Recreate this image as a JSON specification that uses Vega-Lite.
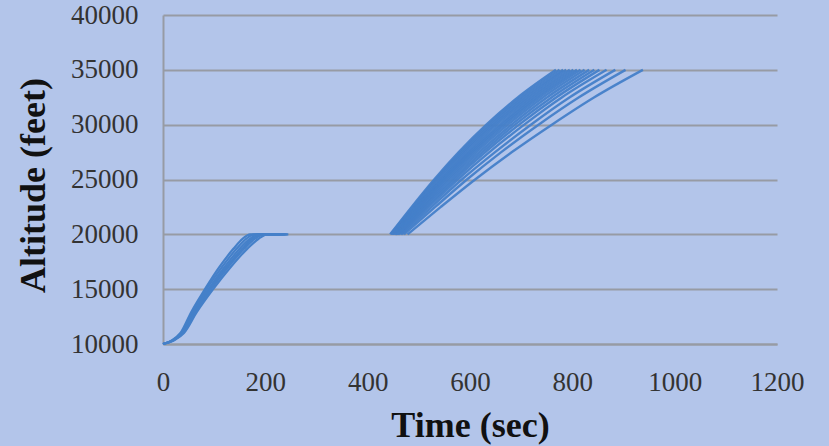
{
  "$schema": "https://vega.github.io/schema/vega-lite/v6.json",
  "width": 614,
  "height": 329,
  "autosize": {"type": "none"},
  "padding": {"left": 163, "top": 15, "right": 52, "bottom": 102},
  "background": "#b3c5ea",
  "config": {"view": {"stroke": null}},
  "datasets": {
    "climb1": [
      {"id":"A1","t":0,"a":10000},{"id":"A1","t":18,"a":10350},{"id":"A1","t":34,"a":11000},{"id":"A1","t":55,"a":12900},{"id":"A1","t":82,"a":15000},{"id":"A1","t":110,"a":17000},{"id":"A1","t":138,"a":18700},{"id":"A1","t":156,"a":19600},{"id":"A1","t":170,"a":20000},{"id":"A1","t":230,"a":20000},
      {"id":"A2","t":0,"a":10000},{"id":"A2","t":19,"a":10350},{"id":"A2","t":36,"a":11000},{"id":"A2","t":58,"a":12900},{"id":"A2","t":85,"a":15000},{"id":"A2","t":115,"a":17000},{"id":"A2","t":144,"a":18700},{"id":"A2","t":163,"a":19600},{"id":"A2","t":178,"a":20000},{"id":"A2","t":235,"a":20000},
      {"id":"A3","t":0,"a":10000},{"id":"A3","t":20,"a":10350},{"id":"A3","t":37,"a":11000},{"id":"A3","t":60,"a":12900},{"id":"A3","t":89,"a":15000},{"id":"A3","t":120,"a":17000},{"id":"A3","t":150,"a":18700},{"id":"A3","t":170,"a":19600},{"id":"A3","t":185,"a":20000},{"id":"A3","t":240,"a":20000},
      {"id":"A4","t":0,"a":10000},{"id":"A4","t":21,"a":10350},{"id":"A4","t":38,"a":11000},{"id":"A4","t":62,"a":12900},{"id":"A4","t":92,"a":15000},{"id":"A4","t":124,"a":17000},{"id":"A4","t":155,"a":18700},{"id":"A4","t":175,"a":19600},{"id":"A4","t":191,"a":20000},{"id":"A4","t":243,"a":20000},
      {"id":"A5","t":0,"a":10000},{"id":"A5","t":21,"a":10350},{"id":"A5","t":39,"a":11000},{"id":"A5","t":64,"a":12900},{"id":"A5","t":94,"a":15000},{"id":"A5","t":127,"a":17000},{"id":"A5","t":159,"a":18700},{"id":"A5","t":180,"a":19600},{"id":"A5","t":196,"a":20000},{"id":"A5","t":238,"a":20000},
      {"id":"A6","t":0,"a":10000},{"id":"A6","t":22,"a":10350},{"id":"A6","t":41,"a":11000},{"id":"A6","t":66,"a":12900},{"id":"A6","t":98,"a":15000},{"id":"A6","t":132,"a":17000},{"id":"A6","t":165,"a":18700},{"id":"A6","t":187,"a":19600},{"id":"A6","t":204,"a":20000},{"id":"A6","t":245,"a":20000}
    ],
    "climb2": [
      {"id":"B1","t":444,"a":20000},{"id":"B1","t":486,"a":22500},{"id":"B1","t":530,"a":25000},{"id":"B1","t":578,"a":27500},{"id":"B1","t":632,"a":30000},{"id":"B1","t":694,"a":32500},{"id":"B1","t":768,"a":35000},
      {"id":"B2","t":445,"a":20000},{"id":"B2","t":488,"a":22500},{"id":"B2","t":533,"a":25000},{"id":"B2","t":582,"a":27500},{"id":"B2","t":637,"a":30000},{"id":"B2","t":700,"a":32500},{"id":"B2","t":775,"a":35000},
      {"id":"B3","t":447,"a":20000},{"id":"B3","t":491,"a":22500},{"id":"B3","t":536,"a":25000},{"id":"B3","t":586,"a":27500},{"id":"B3","t":642,"a":30000},{"id":"B3","t":706,"a":32500},{"id":"B3","t":782,"a":35000},
      {"id":"B4","t":448,"a":20000},{"id":"B4","t":493,"a":22500},{"id":"B4","t":540,"a":25000},{"id":"B4","t":590,"a":27500},{"id":"B4","t":647,"a":30000},{"id":"B4","t":712,"a":32500},{"id":"B4","t":788,"a":35000},
      {"id":"B5","t":449,"a":20000},{"id":"B5","t":495,"a":22500},{"id":"B5","t":543,"a":25000},{"id":"B5","t":595,"a":27500},{"id":"B5","t":652,"a":30000},{"id":"B5","t":718,"a":32500},{"id":"B5","t":795,"a":35000},
      {"id":"B6","t":451,"a":20000},{"id":"B6","t":497,"a":22500},{"id":"B6","t":546,"a":25000},{"id":"B6","t":599,"a":27500},{"id":"B6","t":658,"a":30000},{"id":"B6","t":724,"a":32500},{"id":"B6","t":802,"a":35000},
      {"id":"B7","t":452,"a":20000},{"id":"B7","t":500,"a":22500},{"id":"B7","t":549,"a":25000},{"id":"B7","t":603,"a":27500},{"id":"B7","t":663,"a":30000},{"id":"B7","t":730,"a":32500},{"id":"B7","t":809,"a":35000},
      {"id":"B8","t":454,"a":20000},{"id":"B8","t":502,"a":22500},{"id":"B8","t":552,"a":25000},{"id":"B8","t":607,"a":27500},{"id":"B8","t":668,"a":30000},{"id":"B8","t":736,"a":32500},{"id":"B8","t":816,"a":35000},
      {"id":"B9","t":455,"a":20000},{"id":"B9","t":505,"a":22500},{"id":"B9","t":556,"a":25000},{"id":"B9","t":612,"a":27500},{"id":"B9","t":674,"a":30000},{"id":"B9","t":743,"a":32500},{"id":"B9","t":824,"a":35000},
      {"id":"B10","t":457,"a":20000},{"id":"B10","t":508,"a":22500},{"id":"B10","t":560,"a":25000},{"id":"B10","t":618,"a":27500},{"id":"B10","t":681,"a":30000},{"id":"B10","t":751,"a":32500},{"id":"B10","t":833,"a":35000},
      {"id":"B11","t":459,"a":20000},{"id":"B11","t":511,"a":22500},{"id":"B11","t":565,"a":25000},{"id":"B11","t":624,"a":27500},{"id":"B11","t":688,"a":30000},{"id":"B11","t":760,"a":32500},{"id":"B11","t":843,"a":35000},
      {"id":"B12","t":461,"a":20000},{"id":"B12","t":515,"a":22500},{"id":"B12","t":570,"a":25000},{"id":"B12","t":630,"a":27500},{"id":"B12","t":696,"a":30000},{"id":"B12","t":769,"a":32500},{"id":"B12","t":853,"a":35000},
      {"id":"B13","t":464,"a":20000},{"id":"B13","t":519,"a":22500},{"id":"B13","t":576,"a":25000},{"id":"B13","t":638,"a":27500},{"id":"B13","t":706,"a":30000},{"id":"B13","t":780,"a":32500},{"id":"B13","t":867,"a":35000},
      {"id":"B14","t":467,"a":20000},{"id":"B14","t":525,"a":22500},{"id":"B14","t":584,"a":25000},{"id":"B14","t":649,"a":27500},{"id":"B14","t":719,"a":30000},{"id":"B14","t":795,"a":32500},{"id":"B14","t":884,"a":35000},
      {"id":"B15","t":471,"a":20000},{"id":"B15","t":532,"a":22500},{"id":"B15","t":594,"a":25000},{"id":"B15","t":661,"a":27500},{"id":"B15","t":734,"a":30000},{"id":"B15","t":813,"a":32500},{"id":"B15","t":904,"a":35000},
      {"id":"B16","t":478,"a":20000},{"id":"B16","t":543,"a":22500},{"id":"B16","t":610,"a":25000},{"id":"B16","t":682,"a":27500},{"id":"B16","t":760,"a":30000},{"id":"B16","t":843,"a":32500},{"id":"B16","t":938,"a":35000}
    ]
  },
  "encoding": {
    "x": {
      "field": "t", "type": "quantitative",
      "scale": {"domain": [0, 1200], "nice": false, "zero": false},
      "axis": {
        "values": [0, 200, 400, 600, 800, 1000, 1200],
        "format": "d",
        "grid": false,
        "domain": true, "domainColor": "#979ba4", "domainWidth": 2,
        "ticks": false,
        "labelFlush": false,
        "labelOverlap": false,
        "labelFont": "Liberation Serif", "labelFontSize": 27, "labelColor": "#333333",
        "labelPadding": 25,
        "title": "Time (sec)",
        "titleFont": "Liberation Serif", "titleFontSize": 36, "titleFontWeight": "bold", "titleColor": "#111111",
        "titleBaseline": "middle", "titleY": 81
      }
    },
    "y": {
      "field": "a", "type": "quantitative",
      "scale": {"domain": [10000, 40000], "nice": false, "zero": false},
      "axis": {
        "values": [10000, 15000, 20000, 25000, 30000, 35000, 40000],
        "format": "d",
        "grid": true, "gridColor": "#979ba4", "gridWidth": 2,
        "domain": true, "domainColor": "#979ba4", "domainWidth": 2,
        "ticks": false,
        "labelFlush": false,
        "labelOverlap": false,
        "labelFont": "Liberation Serif", "labelFontSize": 27, "labelColor": "#333333",
        "labelPadding": 25,
        "title": "Altitude (feet)",
        "titleFont": "Liberation Serif", "titleFontSize": 36, "titleFontWeight": "bold", "titleColor": "#111111",
        "titleAngle": -90, "titleAlign": "center", "titleBaseline": "middle",
        "titleX": -130, "titleY": 170
      }
    },
    "detail": {"field": "id", "type": "nominal"}
  },
  "layer": [
    {
      "data": {"name": "climb1"},
      "mark": {"type": "line", "interpolate": "monotone", "stroke": "#4580c9", "strokeWidth": 2.2}
    },
    {
      "data": {"name": "climb2"},
      "mark": {"type": "line", "interpolate": "monotone", "stroke": "#4580c9", "strokeWidth": 2.4, "strokeOpacity": 0.95}
    }
  ]
}
